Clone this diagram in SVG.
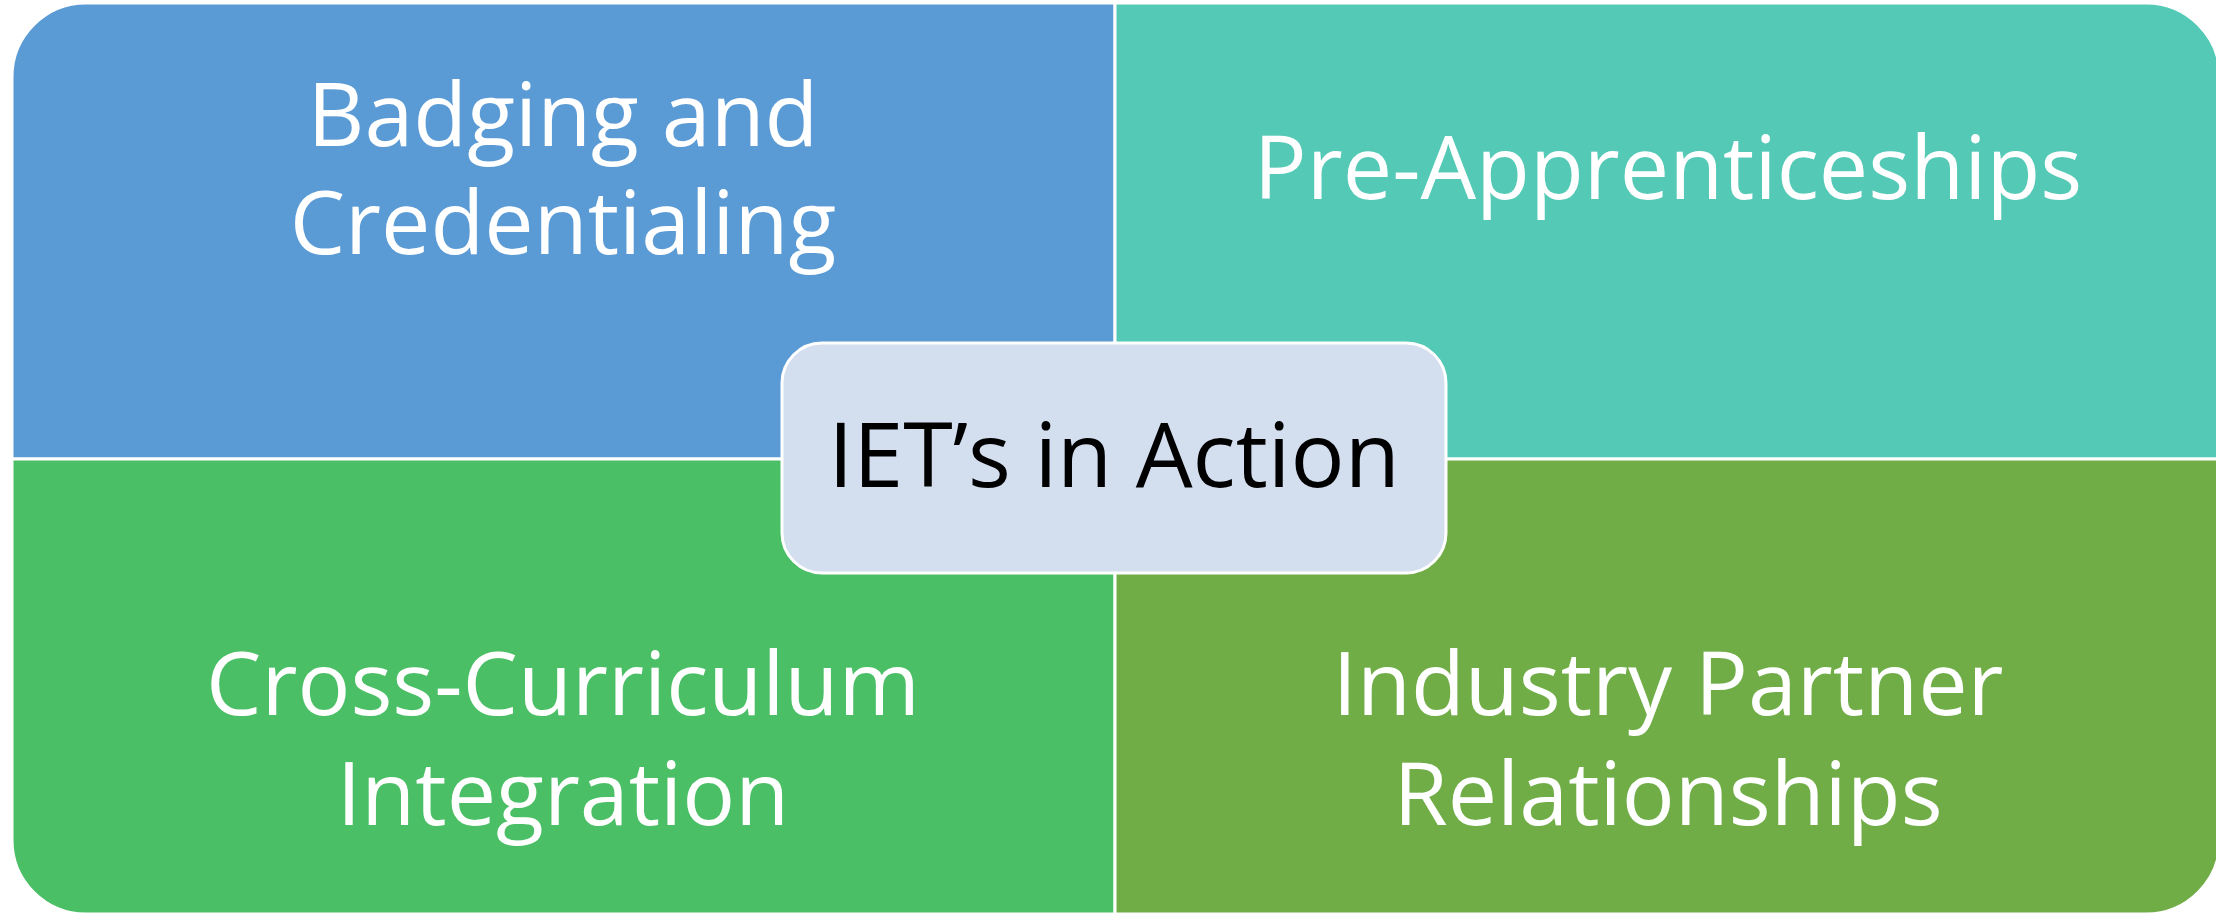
<svg xmlns="http://www.w3.org/2000/svg" width="2216" height="915" viewBox="0 0 2216 915">
  <style>
    .quad { stroke: #ffffff; stroke-width: 3; }
    .qtext { font-family: "Open Sans", "Liberation Sans", sans-serif; font-size: 88px; fill: #ffffff; text-anchor: middle; }
    .ctext { font-family: "Open Sans", "Liberation Sans", sans-serif; font-size: 90px; fill: #000000; text-anchor: middle; }
  </style>
  <rect width="2216" height="915" fill="#ffffff"/>

  <g id="badging">
    <path class="quad" fill="#5B9BD5" d="M12,459 V77 A74,74 0 0 1 86,3 H1115 V459 Z"/>
    <text class="qtext" x="563" y="146">Badging and</text>
    <text class="qtext" x="563" y="254">Credentialing</text>
  </g>

  <g id="pre-apprenticeships">
    <path class="quad" fill="#53C9B6" d="M1115,3 H2146 A74,74 0 0 1 2220,77 V459 H1115 Z"/>
    <text class="qtext" x="1668" y="199">Pre-Apprenticeships</text>
  </g>

  <g id="cross-curriculum">
    <path class="quad" fill="#4ABF65" d="M12,459 H1115 V914 H86 A74,74 0 0 1 12,840 Z"/>
    <text class="qtext" x="563" y="715">Cross-Curriculum</text>
    <text class="qtext" x="563" y="825">Integration</text>
  </g>

  <g id="industry-partner">
    <path class="quad" fill="#70AD47" d="M1115,459 H2220 V840 A74,74 0 0 1 2146,914 H1115 Z"/>
    <text class="qtext" x="1668" y="715">Industry Partner</text>
    <text class="qtext" x="1668" y="825">Relationships</text>
  </g>

  <g id="connectors"></g>

  <g id="center">
    <rect x="782" y="343" width="664" height="230" rx="40" ry="40" fill="#D3DEEF" stroke="#ffffff" stroke-width="3"/>
    <text class="ctext" x="1114" y="487">IET’s in Action</text>
  </g>
</svg>
